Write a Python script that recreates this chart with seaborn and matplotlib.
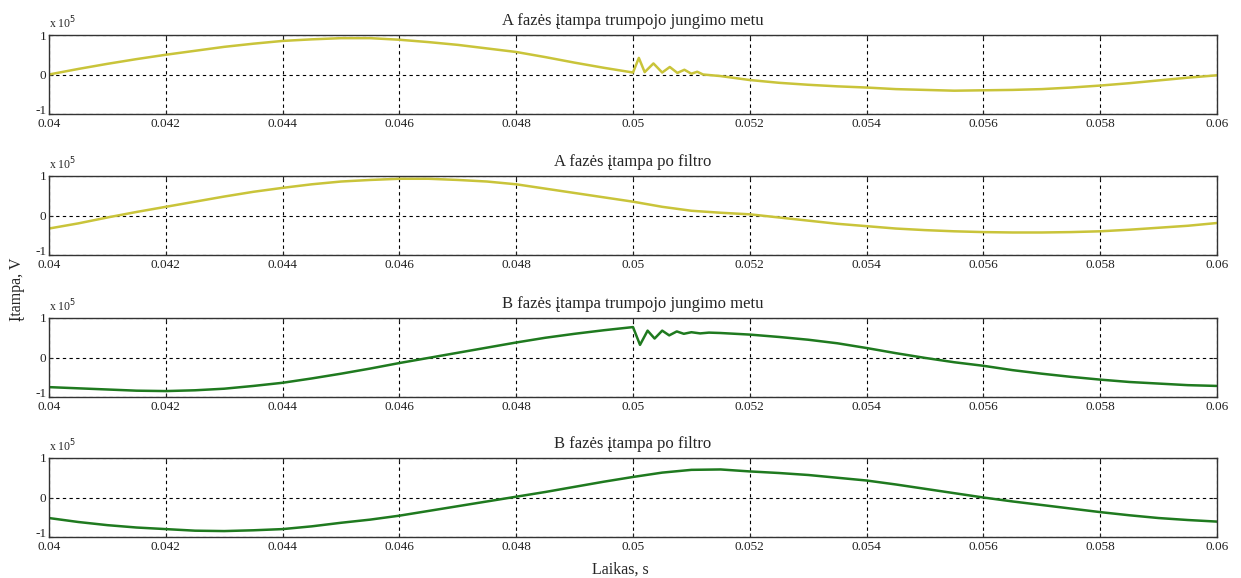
import numpy as np
import pandas as pd
import seaborn as sns
import matplotlib.pyplot as plt
import matplotlib.transforms as mtransforms

# time base (s) for smooth parts, values in units of 1e5 V
t_base = [0.0400, 0.0405, 0.0410, 0.0415, 0.0420, 0.0425, 0.0430, 0.0435, 0.0440, 0.0445,
          0.0450, 0.0455, 0.0460, 0.0465, 0.0470, 0.0475, 0.0480, 0.0485, 0.0490, 0.0495,
          0.0500, 0.0505, 0.0510, 0.0515, 0.0520, 0.0525, 0.0530, 0.0535, 0.0540, 0.0545,
          0.0550, 0.0555, 0.0560, 0.0565, 0.0570, 0.0575, 0.0580, 0.0585, 0.0590, 0.0595,
          0.0600]

# A phase during short circuit
t_a_sc = [0.0400, 0.0405, 0.0410, 0.0415, 0.0420, 0.0425, 0.0430, 0.0435, 0.0440, 0.0445,
          0.0450, 0.0455, 0.0460, 0.0465, 0.0470, 0.0475, 0.0480, 0.0485, 0.0490, 0.0495,
          0.0500, 0.05010, 0.05020, 0.05035, 0.05050, 0.05063, 0.05076, 0.05088, 0.05100,
          0.05110, 0.05120, 0.0515, 0.0520, 0.0525, 0.0530, 0.0535, 0.0540, 0.0545, 0.0550,
          0.0555, 0.0560, 0.0565, 0.0570, 0.0575, 0.0580, 0.0585, 0.0590, 0.0595, 0.0600]
u_a_sc = [0.00, 0.14, 0.27, 0.39, 0.50, 0.60, 0.70, 0.78, 0.85, 0.89,
          0.92, 0.92, 0.88, 0.82, 0.75, 0.66, 0.57, 0.44, 0.30, 0.17,
          0.05, 0.42, 0.06, 0.28, 0.05, 0.19, 0.04, 0.12, 0.02,
          0.07, 0.00, -0.04, -0.14, -0.21, -0.26, -0.30, -0.33, -0.37, -0.39,
          -0.41, -0.40, -0.39, -0.37, -0.33, -0.28, -0.22, -0.15, -0.08, -0.02]

# A phase after filter
u_a_f = [-0.33, -0.20, -0.05, 0.09, 0.22, 0.35, 0.48, 0.60, 0.70, 0.79,
         0.86, 0.90, 0.93, 0.93, 0.90, 0.86, 0.79, 0.68, 0.57, 0.46,
         0.35, 0.22, 0.12, 0.07, 0.03, -0.05, -0.13, -0.21, -0.27, -0.33,
         -0.37, -0.40, -0.42, -0.43, -0.43, -0.42, -0.40, -0.36, -0.31, -0.26,
         -0.19]

# B phase during short circuit
t_b_sc = [0.0400, 0.0405, 0.0410, 0.0415, 0.0420, 0.0425, 0.0430, 0.0435, 0.0440, 0.0445,
          0.0450, 0.0455, 0.0460, 0.0465, 0.0470, 0.0475, 0.0480, 0.0485, 0.0490, 0.0495,
          0.0500, 0.05012, 0.05025, 0.05037, 0.05050, 0.05062, 0.05075, 0.05087, 0.05100,
          0.05115, 0.05130, 0.0515, 0.0520, 0.0525, 0.0530, 0.0535, 0.0540, 0.0545, 0.0550,
          0.0555, 0.0560, 0.0565, 0.0570, 0.0575, 0.0580, 0.0585, 0.0590, 0.0595, 0.0600]
u_b_sc = [-0.75, -0.78, -0.81, -0.84, -0.85, -0.83, -0.79, -0.72, -0.64, -0.53,
          -0.41, -0.28, -0.14, -0.01, 0.12, 0.25, 0.38, 0.50, 0.60, 0.69,
          0.77, 0.32, 0.68, 0.48, 0.68, 0.56, 0.66, 0.60, 0.64,
          0.61, 0.63, 0.62, 0.58, 0.52, 0.45, 0.36, 0.24, 0.11, -0.01,
          -0.12, -0.21, -0.32, -0.41, -0.49, -0.56, -0.62, -0.66, -0.70, -0.72]

# B phase after filter
u_b_f = [-0.52, -0.62, -0.70, -0.76, -0.80, -0.84, -0.85, -0.83, -0.80, -0.73,
         -0.64, -0.56, -0.46, -0.34, -0.22, -0.10, 0.02, 0.14, 0.27, 0.40,
         0.52, 0.63, 0.70, 0.71, 0.66, 0.62, 0.57, 0.50, 0.43, 0.33,
         0.22, 0.11, 0.00, -0.10, -0.19, -0.28, -0.37, -0.45, -0.52, -0.57,
         -0.61]

titles = ["A fazės įtampa trumpojo jungimo metu", "A fazės įtampa po filtro",
          "B fazės įtampa trumpojo jungimo metu", "B fazės įtampa po filtro"]
x_ticks = [0.04, 0.042, 0.044, 0.046, 0.048, 0.05, 0.052, 0.054, 0.056, 0.058, 0.06]
x_labels = ["0.04", "0.042", "0.044", "0.046", "0.048", "0.05", "0.052", "0.054", "0.056", "0.058", "0.06"]

yellow = "#c9c43a"
green = "#1f7a1f"

series = [(t_a_sc, u_a_sc, yellow), (t_base, u_a_f, yellow),
          (t_b_sc, u_b_sc, green), (t_base, u_b_f, green)]

sns.set_style("ticks")
plt.rcParams["font.family"] = ["Liberation Serif", "DejaVu Serif"]

fig = plt.figure(figsize=(12.41, 5.78), dpi=100)
left = 49 / 1241
width = 1168 / 1241
tops = [35, 176, 318, 458]
h = 79 / 578

for i, (t, u, c) in enumerate(series):
    bottom = 1 - (tops[i] + 79) / 578
    ax = fig.add_axes([left, bottom, width, h])
    df = pd.DataFrame({"t": t, "u": u})
    sns.lineplot(data=df, x="t", y="u", ax=ax, color=c, linewidth=1.8, sort=False)
    ax.set_xlim(0.04, 0.06)
    ax.set_ylim(-1, 1)
    ax.set_xticks(x_ticks)
    ax.set_xticklabels(x_labels)
    ax.set_yticks([-1, 0, 1])
    ax.set_yticklabels(["-1", "0", "1"])
    ax.set_xlabel("")
    ax.set_ylabel("")
    ax.grid(True, color="black", linestyle=(0, (3, 3)), linewidth=0.8)
    ax.tick_params(direction="in", length=3, labelsize=9.5, top=True, right=True,
                   colors="#222222")
    ax.tick_params(axis="x", pad=3)
    ax.tick_params(axis="y", pad=2)
    # lift the "-1" label a bit so it sits above the first x label
    lab = ax.get_yticklabels()[0]
    lab.set_transform(lab.get_transform() + mtransforms.ScaledTranslation(0, 3 / 72, fig.dpi_scale_trans))
    for s in ax.spines.values():
        s.set_visible(True)
        s.set_color("#333333")
        s.set_linewidth(1.0)
    ax.set_title(titles[i], fontsize=12, pad=7)
    ax.text(0.0, 1.05, r"x 10$^5$", transform=ax.transAxes, fontsize=8.5, ha="left", va="bottom")

fig.text(0.014, 0.5, "Įtampa, V", rotation=90, ha="center", va="center", fontsize=11.5)
fig.text(0.5, 0.015, "Laikas, s", ha="center", va="center", fontsize=11.5)

fig.savefig("out.png", dpi=100)
